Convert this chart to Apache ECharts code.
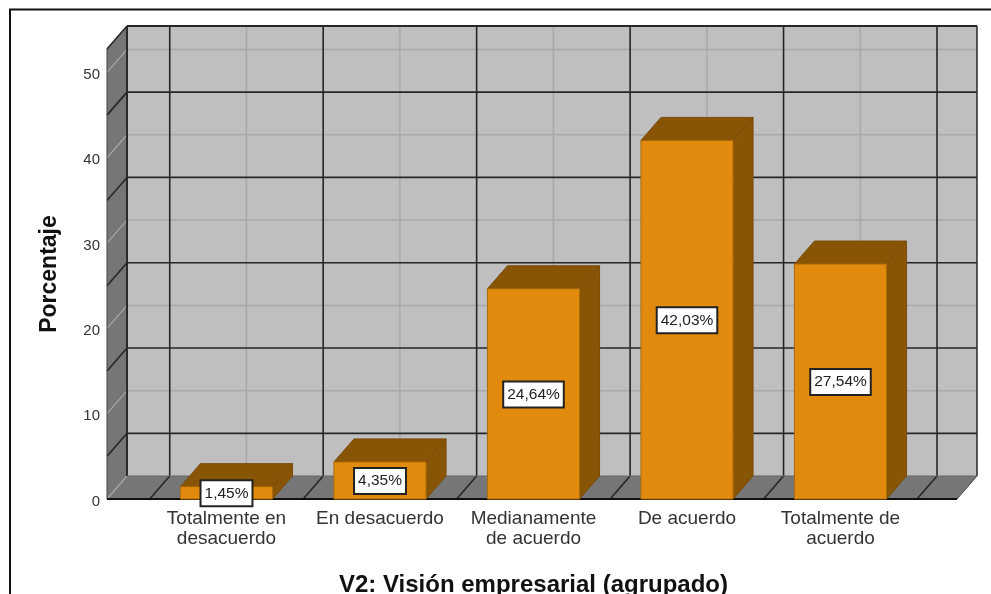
<!DOCTYPE html>
<html>
<head>
<meta charset="utf-8">
<style>html,body{margin:0;padding:0;background:#fff}#c{width:991px;height:594px}</style>
<script src="https://cdn.jsdelivr.net/npm/echarts@6/dist/echarts.min.js"></script>
</head>
<body>
<div id="c"></div>
<script>
var categories = ['Totalmente en\ndesacuerdo', 'En desacuerdo', 'Medianamente\nde acuerdo', 'De acuerdo', 'Totalmente de\nacuerdo'];
var values = [1.45, 4.35, 24.64, 42.03, 27.54];
var valueLabels = ['1,45%', '4,35%', '24,64%', '42,03%', '27,54%'];
var lightLevels = [0, 10, 20, 30, 40, 50];
var darkLevels = [5, 15, 25, 35, 45];
var darkBoundaries = [0, 1, 2, 3, 4, 5];
var lightCentres = [0.5, 1.5, 2.5, 3.5, 4.5];

var DX = 20, DY = -23;
var X_MIN = -0.2785, X_MAX = 5.2606, Y_MAX = 52.75;
var WALL = '#bfbfbf', SIDE = '#767676', DARK = '#262626', LIGHT = '#a9a9a9', SIDE_LIGHT = '#a8a8a8';
var FRONT = '#e28a0d', SHADE = '#885507';

function seg(x1, y1, x2, y2, color, w, z) {
  return { type: 'line', z2: z || 1, shape: { x1: x1, y1: y1, x2: x2, y2: y2 }, style: { stroke: color, lineWidth: w || 1.6 }, silent: true };
}
function poly(points, fill, stroke) {
  return { type: 'polygon', shape: { points: points }, style: { fill: fill, stroke: stroke || null, lineWidth: 1 }, silent: true };
}

function renderFrame(params, api) {
  var l = api.coord([X_MIN, 0])[0], r = api.coord([X_MAX, 0])[0];
  var b = api.coord([X_MIN, 0])[1], t = api.coord([X_MIN, Y_MAX])[1];
  var c = [];
  c.push(poly([[l + DX, t + DY], [r + DX, t + DY], [r + DX, b + DY], [l + DX, b + DY]], WALL));
  c.push(poly([[l, t], [l + DX, t + DY], [l + DX, b + DY], [l, b]], SIDE));
  c.push(poly([[l, b], [l + DX, b + DY], [r + DX, b + DY], [r, b]], SIDE));

  lightCentres.forEach(function (v) {
    var x = api.coord([v, 0])[0] + DX;
    c.push(seg(x, t + DY, x, b + DY, LIGHT, 1.5));
  });
  lightLevels.forEach(function (v) {
    var y = api.coord([X_MIN, v])[1];
    if (v > 0) c.push(seg(l + DX, y + DY, r + DX, y + DY, LIGHT, 1.5));
    c.push(seg(l, y, l + DX, y + DY, SIDE_LIGHT, 1.2));
  });
  darkBoundaries.forEach(function (v) {
    var x = api.coord([v, 0])[0];
    c.push(seg(x + DX, t + DY, x + DX, b + DY, DARK, 1.6));
    c.push(seg(x, b, x + DX, b + DY, DARK, 1.6));
  });
  darkLevels.forEach(function (v) {
    var y = api.coord([X_MIN, v])[1];
    c.push(seg(l + DX, y + DY, r + DX, y + DY, DARK, 1.6));
    c.push(seg(l, y, l + DX, y + DY, DARK, 1.6));
  });
  c.push(seg(l + DX, t + DY, r + DX, t + DY, DARK, 1.8));
  c.push(seg(l + DX, t + DY, l + DX, b + DY, '#2a2a2a', 2));
  c.push(seg(r + DX, t + DY, r + DX, b + DY, '#333', 1.6));
  c.push(seg(l, t, l + DX, t + DY, DARK, 1.6));
  c.push(seg(l, t, l, b, '#444', 1));
  c.push(seg(r, b, r + DX, b + DY, '#444', 1));
  c.push(seg(l + DX, b + DY, r + DX, b + DY, '#666', 1));
  c.push(seg(l, b, r, b, '#111', 2.2, 3));
  return { type: 'group', children: c };
}

function renderBar(params, api) {
  var i = api.value(0), v = api.value(1);
  var base = api.coord([i, 0]), top = api.coord([i, v]);
  var w = api.size([1, 0])[0] * 0.6;
  var l = base[0] - w / 2, r = base[0] + w / 2, b = base[1], t = top[1];
  return {
    type: 'group',
    children: [
      poly([[r, t], [r + DX, t + DY], [r + DX, b + DY], [r, b]], SHADE, '#7a4c06'),
      poly([[l, t], [l + DX, t + DY], [r + DX, t + DY], [r, t]], SHADE, '#7a4c06'),
      poly([[l, t], [r, t], [r, b], [l, b]], FRONT, '#a96a0a'),
      {
        type: 'text', z2: 10, silent: true,
        style: {
          x: base[0], y: (t + b) / 2 + 0.5, text: valueLabels[params.dataIndex],
          align: 'center', verticalAlign: 'middle',
          font: '15.5px "Liberation Sans", Arial, sans-serif', fill: '#222',
          backgroundColor: '#fff', borderColor: '#222', borderWidth: 2,
          padding: [4, 3, 4, 3]
        }
      }
    ]
  };
}

var chart = echarts.init(document.getElementById('c'), null, { renderer: 'canvas' });
chart.setOption({
  animation: false,
  backgroundColor: '#fff',
  textStyle: { fontFamily: '"Liberation Sans", Arial, sans-serif' },
  graphic: [{
    type: 'rect', silent: true, z: -1,
    shape: { x: 10, y: 9.5, width: 1000, height: 620 },
    style: { fill: null, stroke: '#111', lineWidth: 2 }
  }],
  grid: [
    { left: 107, top: 49, width: 850, height: 450, outerBoundsMode: 'none', containLabel: false },
    { left: 149.75, top: 49, width: 767.5, height: 450, outerBoundsMode: 'none', containLabel: false }
  ],
  xAxis: [
    { gridIndex: 0, type: 'value', min: X_MIN, max: X_MAX, show: false },
    {
      gridIndex: 1, type: 'category', data: categories,
      axisLine: { show: false }, axisTick: { show: false }, splitLine: { show: false },
      axisLabel: { interval: 0, margin: 10, color: '#333', fontSize: 19, lineHeight: 20 },
      name: 'V2: Visión empresarial (agrupado)', nameLocation: 'middle', nameGap: 74,
      nameTextStyle: { color: '#111', fontSize: 24, fontWeight: 'bold' }
    }
  ],
  yAxis: [
    {
      gridIndex: 0, type: 'value', min: 0, max: Y_MAX, interval: 10,
      axisLine: { show: false }, axisTick: { show: false }, splitLine: { show: false },
      axisLabel: { margin: 7, color: '#333', fontSize: 15, showMaxLabel: false, verticalAlign: 'top', lineHeight: 5 },
      name: 'Porcentaje', nameLocation: 'middle', nameGap: 46,
      nameTextStyle: { color: '#111', fontSize: 23, fontWeight: 'bold' }
    },
    { gridIndex: 1, type: 'value', min: 0, max: Y_MAX, show: false }
  ],
  series: [
    { type: 'custom', xAxisIndex: 0, yAxisIndex: 0, z: 1, clip: false, silent: true, renderItem: renderFrame, data: [[0, 0]] },
    { type: 'custom', xAxisIndex: 1, yAxisIndex: 1, z: 2, clip: false, silent: true, renderItem: renderBar,
      encode: { x: 0, y: 1 },
      data: values.map(function (v, i) { return [i, v]; }) }
  ]
});
</script>
</body>
</html>
